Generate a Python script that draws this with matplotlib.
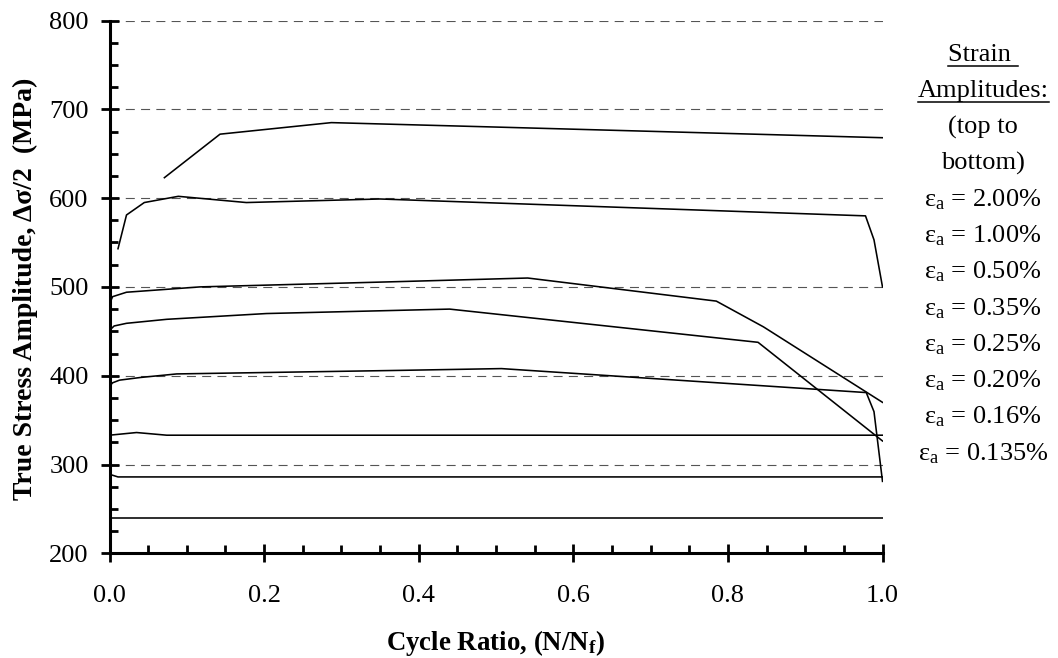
import matplotlib
matplotlib.use("Agg")
import matplotlib.pyplot as plt
from matplotlib.ticker import MultipleLocator, FormatStrFormatter
from matplotlib.lines import Line2D

# ---- data: cycle ratio N/Nf vs true stress amplitude (MPa) ----
x_2p00 = [0.071, 0.143, 0.287, 0.50, 1.0]
s_2p00 = [623, 672, 685, 680, 668]

x_1p00 = [0.011, 0.022, 0.045, 0.089, 0.177, 0.35, 0.978, 0.989, 1.0]
s_1p00 = [543, 581, 595, 602, 595, 599, 580, 553, 500]

x_0p50 = [0.0, 0.004, 0.022, 0.117, 0.376, 0.541, 0.785, 0.846, 1.0]
s_0p50 = [481, 489, 494, 500, 506, 510, 484, 455, 370]

x_0p35 = [0.0, 0.006, 0.022, 0.074, 0.203, 0.44, 0.839, 1.0]
s_0p35 = [451, 456, 459, 463.5, 470, 475, 437.6, 326.5]

x_0p25 = [0.0, 0.004, 0.013, 0.04, 0.087, 0.376, 0.507, 0.979, 0.989, 1.0]
s_0p25 = [388, 392, 395, 398, 402, 406, 408, 381, 359.5, 281]

x_0p20 = [0.0, 0.035, 0.074, 1.0]
s_0p20 = [333, 336, 333, 333]

x_0p16 = [0.0, 0.011, 1.0]
s_0p16 = [289, 286, 286]

x_0p135 = [0.0, 1.0]
s_0p135 = [240, 240]

series = [(x_2p00, s_2p00), (x_1p00, s_1p00), (x_0p50, s_0p50),
          (x_0p35, s_0p35), (x_0p25, s_0p25), (x_0p20, s_0p20),
          (x_0p16, s_0p16), (x_0p135, s_0p135)]

strain_labels = ["2.00%", "1.00%", "0.50%", "0.35%",
                 "0.25%", "0.20%", "0.16%", "0.135%"]

# ---- styling ----
plt.rcParams["font.family"] = ["Liberation Serif", "DejaVu Serif"]
plt.rcParams["mathtext.fontset"] = "custom"
plt.rcParams["mathtext.rm"] = "Liberation Serif"
plt.rcParams["mathtext.it"] = "Liberation Serif:italic"
plt.rcParams["mathtext.bf"] = "Liberation Serif:bold"
plt.rcParams["lines.scale_dashes"] = False

W, H = 1058, 658
fig = plt.figure(figsize=(W / 100, H / 100), dpi=100)
ax_left, ax_right, ax_top, ax_bottom = 109.5, 882.5, 20.5, 553.3
ax = fig.add_axes([ax_left / W, 1 - ax_bottom / H,
                   (ax_right - ax_left) / W, (ax_bottom - ax_top) / H])

for xs, ss in series:
    ax.plot(xs, ss, color="black", lw=1.15, zorder=3)

ax.set_xlim(0, 1.0)
ax.set_ylim(200, 800)

ax.xaxis.set_major_locator(MultipleLocator(0.2))
ax.xaxis.set_minor_locator(MultipleLocator(0.05))
ax.yaxis.set_major_locator(MultipleLocator(100))
ax.yaxis.set_minor_locator(MultipleLocator(25))
ax.xaxis.set_major_formatter(FormatStrFormatter("%.1f"))

ax.yaxis.grid(True, which="major", color="#555555", lw=0.8,
              linestyle=(0, (6.5, 4.5)), zorder=1)
ax.set_axisbelow(True)

for side in ("top", "right"):
    ax.spines[side].set_visible(False)
for side in ("left", "bottom"):
    ax.spines[side].set_linewidth(2.2)
    ax.spines[side].set_zorder(4)

ax.tick_params(axis="both", which="major", direction="inout", length=13,
               width=2, labelsize=19, colors="black")
ax.tick_params(axis="both", which="minor", direction="in", length=6,
               width=2)
ax.tick_params(axis="y", which="major", pad=8.5)
ax.tick_params(axis="x", which="major", pad=16)

ax.set_xlabel(r"Cycle Ratio, (N/N$_\mathbf{f}$)", fontsize=19.4,
              fontweight="bold")
ax.xaxis.set_label_coords(0.5, (ax_bottom - 628) / (ax_bottom - ax_top))
ax.set_ylabel("True Stress Amplitude, \u0394\u03c3/2  (MPa)", fontsize=20,
              fontweight="bold")
ax.yaxis.set_label_coords((38 - ax_left) / (ax_right - ax_left),
                          (ax_bottom - 289) / (ax_bottom - ax_top))

# ---- strain amplitude key on the right ----
key_x = 983 / W
header = ["Strain ", "Amplitudes:", "(top to", "bottom)"]
lines = header + ["$\\mathrm{\u03b5_a}$ = " + s for s in strain_labels]
first_base, last_base = 61.0, 460.0
step = (last_base - first_base) / (len(lines) - 1)
texts = []
for i, txt in enumerate(lines):
    yb = first_base + i * step
    t = fig.text(key_x, 1 - yb / H, txt, ha="center", va="baseline",
                 fontsize=19)
    texts.append((t, yb))

fig.canvas.draw()
renderer = fig.canvas.get_renderer()
for t, yb in texts[:2]:
    bb = t.get_window_extent(renderer)
    yu = 1 - (yb + 4.5) / H
    fig.add_artist(Line2D([bb.x0 / W, bb.x1 / W], [yu, yu],
                          transform=fig.transFigure, color="black", lw=1.1))

fig.savefig("out.png", dpi=100)
